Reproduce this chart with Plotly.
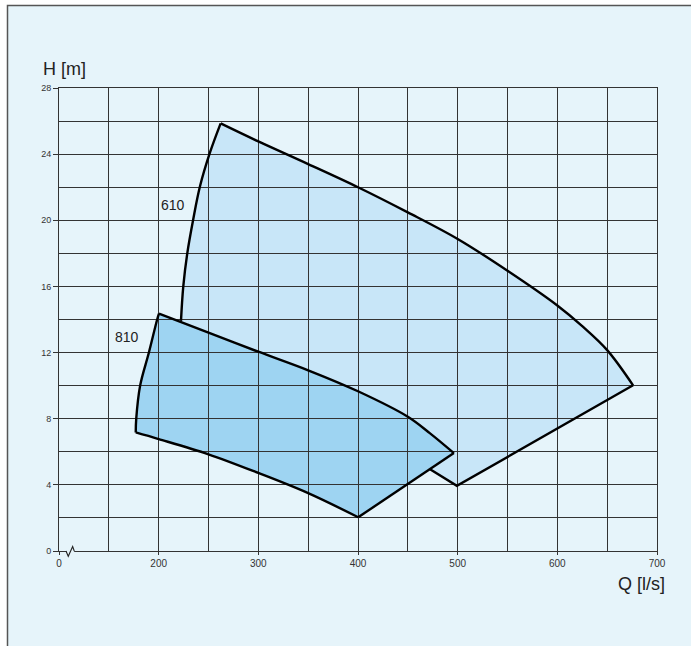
import plotly.graph_objects as go

# ---- data (Q in l/s, H in m) ----
# 610 range: visible outline (from where it leaves the 810 area, round to its left end)
q610 = [472.3, 499.2, 676.0, 650.0, 625.0, 600.0, 550.0, 500.0, 450.0, 400.0, 350.0, 300.0,
        262.2, 251.5, 241.4, 234.7, 228.7, 224.7, 222.4]
h610 = [4.95, 3.94, 10.02, 12.15, 13.6, 14.85, 16.95, 18.87, 20.48, 22.0, 23.4, 24.77,
        25.86, 24.1, 22.04, 20.06, 18.0, 16.0, 13.92]
# part of the 610 boundary hidden behind the 810 area
q610_hidden = [240.0, 460.0]
h610_hidden = [12.9, 5.6]

# 810 range: closed outline
q810 = [200.3, 250.0, 300.0, 350.0, 400.0, 450.0, 472.0, 496.2, 400.2, 350.0, 300.0, 250.0,
        200.0, 177.0, 177.5, 181.4, 190.2, 198.5]
h810 = [14.35, 13.2, 12.05, 10.93, 9.66, 8.12, 7.13, 5.92, 2.04, 3.5, 4.72, 5.85,
        6.77, 7.17, 8.0, 10.0, 12.0, 14.0]

# edges of each outline (start index, end index, curved?)
edges610 = [(0, 2, False), (2, 12, True), (12, 18, True)]
edges810 = [(0, 7, True), (7, 8, False), (8, 13, True), (13, 18, True)]

x_tickvals = [100, 200, 300, 400, 500, 600, 700]
x_ticktext = ["0", "200", "300", "400", "500", "600", "700"]
y_tickvals = [0, 4, 8, 12, 16, 20, 24, 28]

labels = ["610", "810"]
label_q = [214.7, 168.7]
label_h = [20.9, 12.96]

X_RANGE = [100, 700]
Y_RANGE = [0, 28]

PAPER_BG = "#e6f4fa"
PLOT_BG = "#e9f6fb"
FILL_610 = "#c8e6f8"
FILL_810 = "#9ed4f2"
GRID = "#333333"
FONT = "Liberation Sans, Arial, sans-serif"


def poly_path(xs, ys):
    pts = " L ".join(f"{x},{y}" for x, y in zip(xs, ys))
    return "M " + pts + " Z"


fig = go.Figure()


def add_outline(qs, hs, edges, closed):
    qq = qs + qs[:1] if closed else qs
    hh = hs + hs[:1] if closed else hs
    for a, b, curved in edges:
        fig.add_trace(go.Scatter(
            x=qq[a:b + 1], y=hh[a:b + 1], mode="lines",
            line=dict(color="black", width=2.4,
                      shape="spline" if curved else "linear", smoothing=1.0),
            hoverinfo="skip", showlegend=False))


add_outline(q610, h610, edges610, closed=False)
add_outline(q810, h810, edges810, closed=True)


def px(xv):
    return (xv - X_RANGE[0]) / (X_RANGE[1] - X_RANGE[0])


def py(yv):
    return (yv - Y_RANGE[0]) / (Y_RANGE[1] - Y_RANGE[0])


shapes = []
# light panel inside the frame
shapes.append(dict(type="rect", xref="paper", yref="paper", layer="below",
                   x0=(7.5 - 59) / 598, x1=1.2, y0=-0.3, y1=(551 - 5.5) / 463,
                   fillcolor=PAPER_BG, line=dict(width=0)))
# fills drawn below the grid lines
shapes.append(dict(type="path", xref="x", yref="y", layer="below",
                   path=poly_path(q610 + q610_hidden, h610 + h610_hidden),
                   fillcolor=FILL_610, line=dict(width=0)))
shapes.append(dict(type="path", xref="x", yref="y", layer="below",
                   path=poly_path(q810, h810),
                   fillcolor=FILL_810, line=dict(width=0)))
# axis break mark on the Q axis
shapes.append(dict(type="rect", xref="paper", yref="paper", layer="above",
                   x0=px(107.5), x1=px(115.2), y0=py(-0.12), y1=py(0.12),
                   fillcolor=PAPER_BG, line=dict(width=0)))
shapes.append(dict(type="path", xref="paper", yref="paper", layer="above",
                   path=f"M {px(107.0)},{py(0)} L {px(109.3)},{py(-0.32)} "
                        f"L {px(113.7)},{py(0.27)} L {px(115.3)},{py(0)}",
                   line=dict(color="#222", width=1.1)))
# outer frame
shapes.append(dict(type="rect", xref="paper", yref="paper", layer="below",
                   x0=(7.5 - 59) / 598, x1=1.2, y0=-0.3, y1=(551 - 5.5) / 463,
                   fillcolor="rgba(0,0,0,0)", line=dict(color="#555", width=1.5)))

annotations = []
for t, qx, hy in zip(labels, label_q, label_h):
    annotations.append(dict(x=qx, y=hy, xref="x", yref="y", text=t, showarrow=False,
                            font=dict(size=14, color="#222", family=FONT),
                            xanchor="center", yanchor="middle"))
annotations.append(dict(x=(40.5 - 59) / 598, y=(551 - 69) / 463, xref="paper", yref="paper",
                        text="H [m]", showarrow=False, xanchor="left", yanchor="middle",
                        font=dict(size=18, color="#222", family=FONT)))
annotations.append(dict(x=(667 - 59) / 598, y=(551 - 584) / 463, xref="paper", yref="paper",
                        text="Q [l/s]", showarrow=False, xanchor="right", yanchor="middle",
                        font=dict(size=18, color="#222", family=FONT)))

fig.update_layout(
    width=691, height=646,
    margin=dict(l=59, r=34, t=88, b=95, pad=0),
    paper_bgcolor="white", plot_bgcolor=PLOT_BG,
    shapes=shapes, annotations=annotations,
    font=dict(family=FONT, color="#333"),
    xaxis=dict(range=X_RANGE, tickmode="array", tickvals=x_tickvals, ticktext=x_ticktext,
               ticks="outside", ticklen=3, tickcolor=GRID, tickwidth=1,
               showgrid=True, gridcolor=GRID, gridwidth=1, zeroline=False,
               showline=True, linecolor=GRID, linewidth=1, mirror=True,
               minor=dict(dtick=50, tick0=100, showgrid=True, gridcolor=GRID, gridwidth=1, ticks=""),
               tickfont=dict(size=10, color="#333", family=FONT), fixedrange=True),
    yaxis=dict(range=Y_RANGE, tickmode="array", tickvals=y_tickvals,
               ticks="outside", ticklen=5, tickcolor=GRID, tickwidth=1,
               showgrid=True, gridcolor=GRID, gridwidth=1, zeroline=False,
               showline=True, linecolor=GRID, linewidth=1, mirror=True,
               minor=dict(dtick=2, tick0=0, showgrid=True, gridcolor=GRID, gridwidth=1, ticks=""),
               tickfont=dict(size=9, color="#333", family=FONT), fixedrange=True),
)

fig.write_html("out.html", config={"displayModeBar": False},
               post_script="document.body.style.margin='0';")
